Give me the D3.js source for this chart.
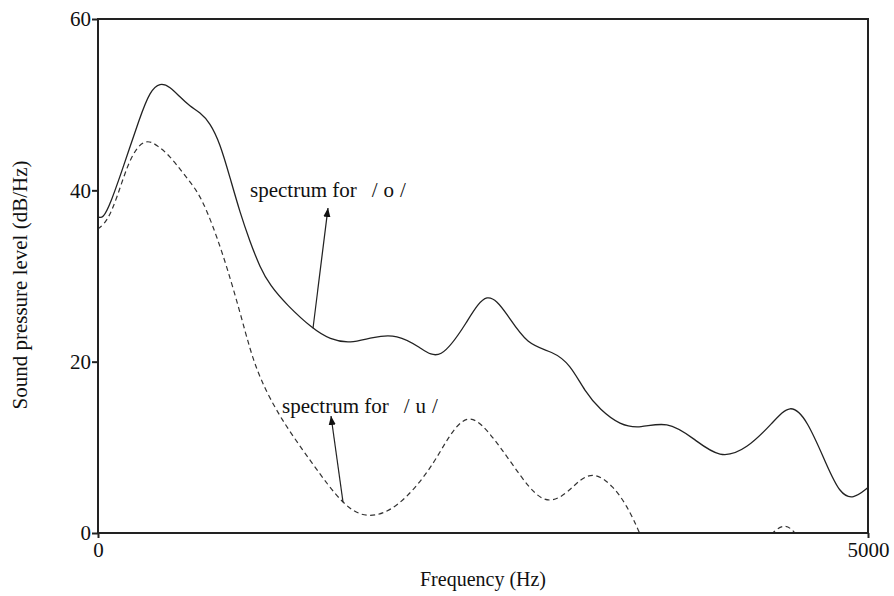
<!DOCTYPE html>
<html><head><meta charset="utf-8">
<script src="https://cdn.jsdelivr.net/npm/d3@7"></script>
<style>
html,body{margin:0;padding:0;background:#fff;}
text{font-family:"Liberation Serif","Times New Roman",serif;fill:#111;}
</style></head>
<body><svg id="c" width="894" height="596"></svg>
<script>
const xTicks = [0, 5000];
const yTicks = [0, 20, 40, 60];
const xLabel = "Frequency (Hz)";
const yLabel = "Sound pressure level (dB/Hz)";

// Spectrum for /o/ (solid)
const oFreq = [0,32,78,162,273,338,403,468,532,597,662,727,792,857,922,987,1052,1117,1227,1396,1506,1636,1786,1942,2091,2221,2396,2526,2656,2786,2955,3065,3162,3260,3390,3519,3695,3864,4039,4214,4383,4494,4604,4734,4818,4903,5000];
const oLevel = [36.9,36.7,38.3,42.6,48.6,51.6,52.6,52.1,50.9,49.8,49.1,47.9,45.5,41.5,37.4,34.0,31.0,28.9,26.6,23.8,22.6,22.1,22.9,23.2,21.7,19.9,24.6,28.6,25.6,21.9,21.2,19.7,16.5,14.4,12.6,12.2,13.1,11.1,8.6,9.8,12.9,15.2,13.3,7.8,4.6,3.9,5.3];

// Spectrum for /u/ (dashed)
const uFreq = [0,58,123,188,253,318,383,468,552,643,708,773,838,922,987,1052,1182,1396,1591,1747,1942,2156,2266,2396,2526,2695,2890,3045,3130,3227,3344,3435,3519,3620,3800,4000,4200,4330,4400,4461,4520,4600,4800,5000];
const uLevel = [35.5,36.3,39.1,42.8,45.1,45.9,45.3,44.0,42.0,40.0,37.6,34.5,31.0,25.8,21.4,18.0,13.4,8.0,3.2,1.6,2.8,7.3,11.0,14.1,12.2,7.9,3.0,4.6,6.3,7.1,5.5,3.2,0,-4.5,-7,-6.5,-3.5,-1,0.4,1.0,0.3,-2,-5,-6];

const annotations = [
  {text:"spectrum for", sym:"o", tx:250, ty:197, from:[1396,23.9], to:[328,208]},
  {text:"spectrum for", sym:"u", tx:282, ty:413, from:[1591,3.6], to:[331,416]}
];

const svg = d3.select("#c");
const L = 98, R = 868, T = 19, B = 533;
const x = d3.scaleLinear().domain([0,5000]).range([L,R]);
const y = d3.scaleLinear().domain([0,60]).range([B,T]);

svg.append("defs").append("clipPath").attr("id","clip")
  .append("rect").attr("x",L).attr("y",T).attr("width",R-L).attr("height",B-T);
const mk = svg.select("defs").append("marker").attr("id","arr")
  .attr("viewBox","0 0 10 10").attr("refX",10).attr("refY",5)
  .attr("markerWidth",9).attr("markerHeight",9).attr("markerUnits","userSpaceOnUse")
  .attr("orient","auto");
mk.append("path").attr("d","M0,1 L10,5 L0,9 Z").attr("fill","#111");

const line = d3.line().x(d=>x(d[0])).y(d=>y(d[1])).curve(d3.curveBasis);
const g = svg.append("g").attr("clip-path","url(#clip)");
g.append("path").datum(oFreq.map((f,i)=>[f,oLevel[i]])).attr("d",line)
  .attr("fill","none").attr("stroke","#222").attr("stroke-width",1.3);
g.append("path").datum(uFreq.map((f,i)=>[f,uLevel[i]])).attr("d",line)
  .attr("fill","none").attr("stroke","#333").attr("stroke-width",1.2).attr("stroke-dasharray","5,3.5");

// frame
svg.append("rect").attr("x",L).attr("y",T).attr("width",R-L).attr("height",B-T)
  .attr("fill","none").attr("stroke","#222").attr("stroke-width",2);

const xa = svg.append("g").attr("transform",`translate(0,${B})`)
  .call(d3.axisBottom(x).tickValues(xTicks).tickFormat(d3.format("d")).tickSize(5).tickPadding(4));
const ya = svg.append("g").attr("transform",`translate(${L},0)`)
  .call(d3.axisLeft(y).tickValues(yTicks).tickSize(6).tickPadding(1));
[xa,ya].forEach(a=>{
  a.select(".domain").remove();
  a.selectAll("line").attr("stroke","#222").attr("stroke-width",2);
  a.selectAll("text").style("font-family","Liberation Serif").style("font-size","21px").attr("fill","#111");
});

svg.append("text").attr("x",(L+R)/2).attr("y",586).attr("text-anchor","middle")
  .style("font-size","20px").text(xLabel);
svg.append("text").attr("transform","translate(27,285) rotate(-90)").attr("text-anchor","middle")
  .style("font-size","21px").text(yLabel);

annotations.forEach(a=>{
  const t = svg.append("text").attr("x",a.tx).attr("y",a.ty).style("font-size","21px").text(a.text);
  t.append("tspan").attr("dx",15).text("/");
  t.append("tspan").attr("dx",6).text(a.sym);
  t.append("tspan").attr("dx",6).text("/");
  svg.append("line").attr("x1",x(a.from[0])).attr("y1",y(a.from[1]))
    .attr("x2",a.to[0]).attr("y2",a.to[1])
    .attr("stroke","#222").attr("stroke-width",1.2).attr("marker-end","url(#arr)");
});
</script></body></html>
